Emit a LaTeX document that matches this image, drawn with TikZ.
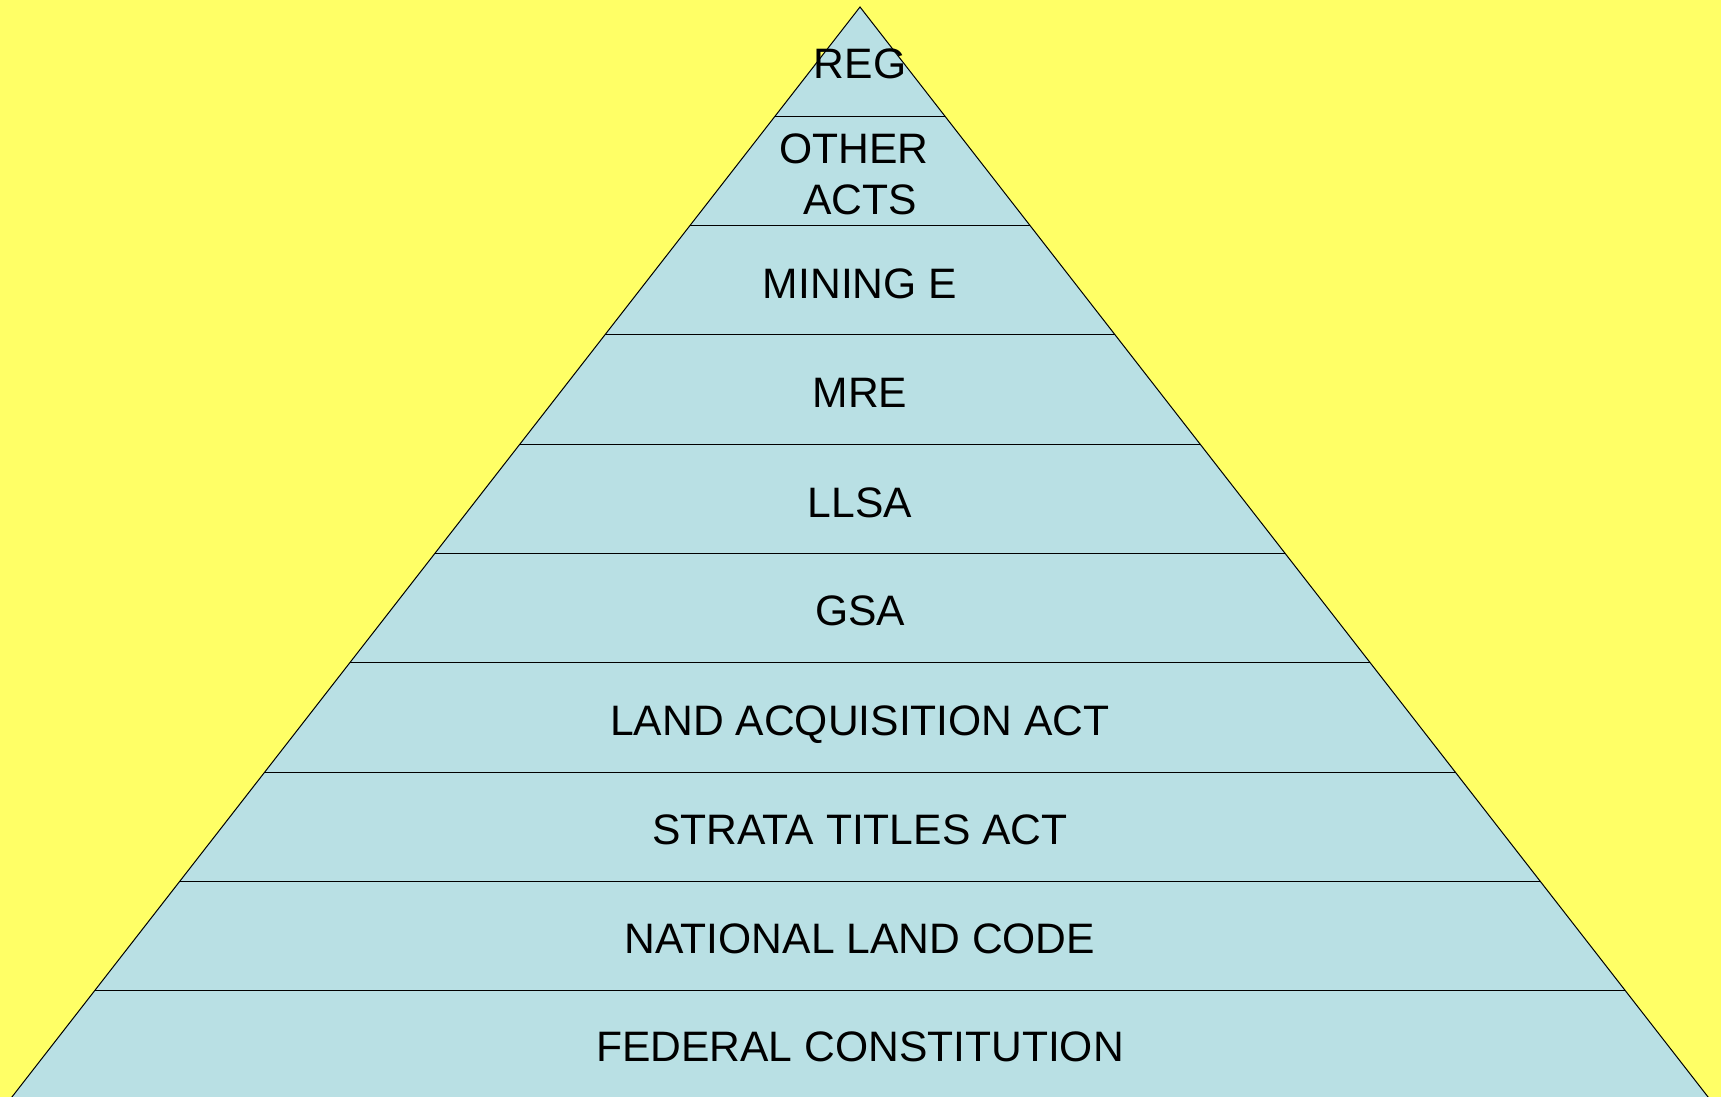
\documentclass[tikz,border=0pt]{standalone}
\usepackage{fontspec}
\setmainfont{Liberation Sans}
\usepackage{tikz}

\definecolor{bgyellow}{RGB}{255,255,102}
\definecolor{layerblue}{RGB}{185,224,228}

\tikzset{
    layer/.style={anchor=base, inner sep=0pt, align=center,
        font=\fontsize{21.3pt}{25.25pt}\selectfont},
    edge/.style={draw=black, line width=0.5pt}
}

\begin{document}
\begin{tikzpicture}[x=0.5pt,y=-0.5pt]
    \fill[bgyellow] (0,0) rectangle (1721,1097);
    \useasboundingbox (0,0) rectangle (1721,1097);
    \clip (0,0) rectangle (1721,1097);
    \coordinate (apex) at (860,7);
    \coordinate (bl) at (9.6,1100);
    \coordinate (br) at (1710.4,1100);
    \fill[layerblue] (apex) -- (br) -- (bl) -- cycle;
    \draw[edge] (bl) -- (apex) -- (br);
    \draw[edge] (775.0,116.3) -- (945.0,116.3);
    \draw[edge] (689.9,225.6) -- (1030.1,225.6);
    \draw[edge] (604.9,334.9) -- (1115.1,334.9);
    \draw[edge] (519.8,444.2) -- (1200.2,444.2);
    \draw[edge] (434.8,553.5) -- (1285.2,553.5);
    \draw[edge] (349.8,662.8) -- (1370.2,662.8);
    \draw[edge] (264.7,772.1) -- (1455.3,772.1);
    \draw[edge] (179.7,881.4) -- (1540.3,881.4);
    \draw[edge] (94.6,990.7) -- (1625.4,990.7);
    \node[layer] (reg) at (860,79) {REG};
    \node[layer] (other) at (860,214) {OTHER\kern.278em\\ACTS};
    \node[layer] (mining) at (860,298.5) {MINING E};
    \node[layer] (mre) at (860,407) {MRE};
    \node[layer] (llsa) at (860,517) {LLSA};
    \node[layer] (gsa) at (860,625.5) {GSA};
    \node[layer] (landacq) at (860,735) {LAND ACQUISITION ACT};
    \node[layer] (strata) at (860,844) {STRATA TITLES ACT};
    \node[layer] (nlc) at (860,953.8) {NATIONAL LAND CODE};
    \node[layer] (fedcon) at (860,1061.3) {FEDERAL CONSTITUTION};
\end{tikzpicture}
\end{document}
